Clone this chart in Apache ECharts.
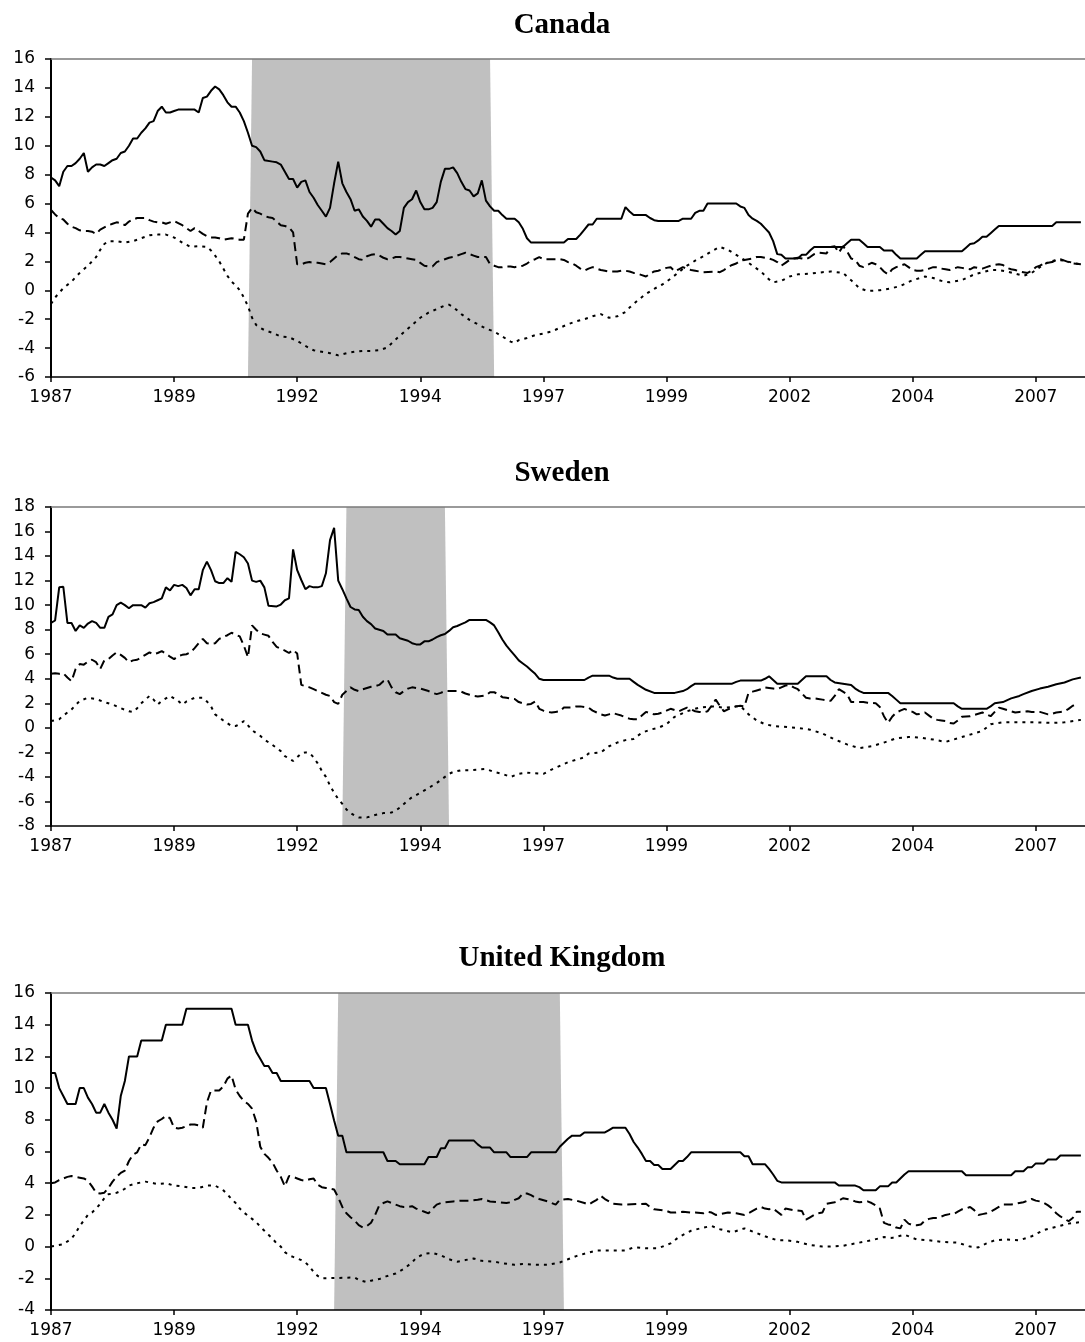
<!DOCTYPE html>
<html>
<head>
<meta charset="utf-8">
<title>Canada, Sweden, United Kingdom</title>
<script src="https://cdn.jsdelivr.net/npm/echarts@6/dist/echarts.min.js"></script>
<style>
  html, body { margin: 0; padding: 0; background: #fff; }
  #chart { width: 1085px; height: 1342px; }
</style>
</head>
<body>
<div id="chart"></div>
<script>
// x = months since January 1987, y = percent
const tickYears = [1987, 1989, 1992, 1994, 1997, 1999, 2002, 2004, 2007];

// Canada
const caRate = [[0,7.8],[1,7.6],[2,7.2],[3,8.2],[4,8.6],[5,8.6],[6,8.8],[7,9.1],[8,9.5],[9,8.2],[10,8.5],[11,8.7],[12,8.7],[13,8.6],[14,8.8],[15,9.0],[16,9.1],[17,9.5],[18,9.6],[19,10.0],[20,10.5],[21,10.5],[22,10.9],[23,11.2],[24,11.6],[25,11.7],[26,12.4],[27,12.7],[28,12.3],[29,12.3],[30,12.4],[31,12.5],[35,12.5],[36,12.3],[37,13.3],[38,13.4],[39,13.8],[40,14.1],[41,13.9],[42,13.5],[43,13.0],[44,12.7],[45,12.7],[46,12.3],[47,11.7],[48,10.9],[49,10.0],[50,9.9],[51,9.6],[52,9.0],[54,8.9],[55,8.85],[56,8.7],[57,8.2],[58,7.7],[59,7.7],[60,7.1],[61,7.5],[62,7.6],[63,6.8],[64,6.4],[65,5.9],[66,5.5],[67,5.1],[68,5.7],[69,7.4],[70,8.9],[71,7.4],[72,6.8],[73,6.3],[74,5.5],[75,5.6],[76,5.1],[77,4.8],[78,4.4],[79,4.9],[80,4.9],[81,4.6],[82,4.3],[83,4.1],[84,3.85],[85,4.1],[86,5.7],[87,6.1],[88,6.3],[89,6.9],[90,6.1],[91,5.6],[92,5.6],[93,5.7],[94,6.1],[95,7.5],[96,8.4],[97,8.4],[98,8.5],[99,8.1],[100,7.5],[101,7.0],[102,6.9],[103,6.5],[104,6.7],[105,7.6],[106,6.2],[107,5.8],[108,5.5],[109,5.5],[110,5.2],[111,4.95],[113,4.95],[114,4.7],[115,4.25],[116,3.6],[117,3.3],[125,3.3],[126,3.55],[128,3.55],[129,3.85],[130,4.2],[131,4.55],[132,4.55],[133,4.95],[139,4.95],[140,5.75],[141,5.45],[142,5.2],[145,5.2],[146,5.0],[147,4.85],[148,4.8],[153,4.8],[154,4.95],[156,4.95],[157,5.35],[158,5.5],[159,5.5],[160,6.0],[167,6.0],[168,5.8],[169,5.7],[170,5.2],[171,4.95],[172,4.8],[173,4.6],[174,4.3],[175,4.0],[176,3.4],[177,2.5],[178,2.45],[179,2.2],[182,2.2],[183,2.45],[184,2.45],[185,2.75],[186,3.0],[193,3.0],[194,3.25],[195,3.5],[197,3.5],[198,3.25],[199,3.0],[202,3.0],[203,2.75],[205,2.75],[206,2.45],[207,2.2],[211,2.2],[212,2.45],[213,2.7],[222,2.7],[223,2.95],[224,3.2],[225,3.25],[226,3.45],[227,3.7],[228,3.7],[229,3.95],[230,4.2],[231,4.45],[244,4.45],[245,4.7],[251,4.7]];
const caInfl = [[0,5.55],[1,5.25],[2,5.0],[3,4.9],[4,4.6],[5,4.4],[6,4.3],[7,4.15],[8,4.1],[9,4.1],[10,4.05],[11,3.9],[12,4.2],[13,4.35],[14,4.5],[15,4.6],[16,4.7],[17,4.65],[18,4.5],[19,4.75],[20,4.9],[21,5.0],[23,5.0],[24,4.85],[25,4.75],[26,4.7],[27,4.7],[28,4.6],[29,4.7],[30,4.8],[31,4.65],[32,4.5],[33,4.3],[34,4.1],[35,4.3],[36,4.1],[37,3.9],[38,3.75],[39,3.65],[40,3.65],[41,3.6],[42,3.5],[43,3.55],[44,3.6],[45,3.55],[46,3.5],[47,3.5],[48,5.3],[49,5.7],[50,5.4],[51,5.3],[52,5.15],[53,5.05],[54,5.0],[55,4.75],[56,4.5],[57,4.45],[58,4.35],[59,4.0],[60,1.8],[61,1.8],[62,1.9],[63,1.95],[64,1.9],[65,1.9],[66,1.85],[67,1.8],[68,1.95],[69,2.2],[70,2.45],[71,2.55],[72,2.55],[73,2.45],[74,2.3],[75,2.15],[76,2.1],[77,2.35],[78,2.45],[79,2.5],[80,2.4],[81,2.25],[82,2.15],[83,2.2],[84,2.3],[85,2.3],[86,2.25],[87,2.2],[88,2.15],[89,2.1],[90,1.9],[91,1.7],[92,1.65],[93,1.65],[94,1.95],[95,2.05],[96,2.15],[97,2.25],[98,2.3],[99,2.4],[100,2.5],[101,2.6],[102,2.5],[103,2.4],[104,2.3],[106,2.3],[107,1.8],[108,1.7],[109,1.6],[110,1.6],[111,1.65],[112,1.65],[113,1.6],[114,1.65],[115,1.7],[116,1.85],[117,2.05],[118,2.15],[119,2.3],[120,2.15],[124,2.15],[125,2.1],[126,1.95],[127,1.85],[128,1.7],[129,1.5],[130,1.35],[131,1.5],[132,1.6],[133,1.5],[134,1.4],[135,1.35],[136,1.3],[138,1.3],[139,1.35],[140,1.35],[141,1.3],[142,1.2],[143,1.15],[144,1.05],[145,0.95],[146,1.15],[147,1.3],[148,1.35],[149,1.45],[150,1.55],[151,1.6],[152,1.3],[153,1.45],[154,1.6],[155,1.5],[156,1.4],[157,1.35],[158,1.3],[159,1.25],[162,1.3],[163,1.25],[164,1.4],[165,1.6],[166,1.75],[167,1.85],[168,2.05],[169,2.1],[170,2.15],[171,2.2],[172,2.3],[173,2.3],[174,2.25],[175,2.2],[176,2.1],[177,1.95],[178,1.7],[179,1.9],[180,2.1],[181,2.2],[182,2.25],[183,2.2],[184,2.15],[185,2.3],[186,2.5],[187,2.6],[189,2.55],[190,3.0],[191,3.05],[192,2.6],[193,3.05],[194,2.7],[195,2.2],[196,2.1],[197,1.7],[198,1.6],[199,1.75],[200,1.9],[201,1.8],[202,1.6],[203,1.3],[204,1.1],[205,1.45],[206,1.6],[207,1.7],[208,1.8],[209,1.6],[210,1.4],[211,1.35],[212,1.35],[213,1.4],[214,1.5],[215,1.6],[216,1.6],[217,1.5],[218,1.45],[219,1.4],[220,1.5],[221,1.6],[222,1.55],[223,1.5],[224,1.45],[225,1.6],[226,1.55],[227,1.5],[228,1.6],[229,1.7],[230,1.75],[231,1.8],[232,1.75],[233,1.55],[234,1.45],[235,1.4],[236,1.3],[237,1.25],[238,1.2],[239,1.35],[240,1.6],[241,1.7],[242,1.85],[243,1.9],[244,1.95],[245,2.1],[246,2.15],[247,2.05],[248,1.95],[249,1.85],[251,1.8]];
const caGap = [[0,-0.95],[1,-0.5],[3,0.15],[5,0.6],[7,1.2],[9,1.7],[11,2.3],[12,2.8],[13,3.2],[14,3.4],[16,3.4],[18,3.3],[20,3.4],[22,3.6],[24,3.8],[26,3.85],[28,3.85],[30,3.65],[32,3.3],[34,3.0],[36,3.05],[38,3.0],[39,2.75],[40,2.4],[41,2.0],[42,1.5],[43,1.0],[44,0.6],[45,0.35],[46,0.0],[47,-0.5],[48,-1.1],[49,-1.9],[50,-2.4],[51,-2.6],[52,-2.75],[54,-2.95],[56,-3.2],[58,-3.25],[60,-3.5],[62,-3.85],[64,-4.15],[66,-4.25],[68,-4.35],[70,-4.5],[72,-4.35],[74,-4.25],[76,-4.2],[78,-4.2],[80,-4.15],[82,-3.95],[84,-3.4],[86,-2.9],[88,-2.4],[90,-1.9],[92,-1.55],[94,-1.3],[96,-1.05],[97,-1.0],[98,-1.15],[100,-1.65],[102,-2.05],[104,-2.35],[106,-2.65],[108,-2.85],[110,-3.2],[112,-3.55],[113,-3.65],[114,-3.45],[116,-3.3],[118,-3.1],[120,-3.0],[122,-2.85],[124,-2.6],[126,-2.35],[128,-2.15],[130,-2.0],[132,-1.8],[134,-1.65],[136,-1.9],[138,-1.8],[140,-1.5],[141,-1.2],[143,-0.7],[145,-0.25],[147,0.1],[149,0.4],[151,0.8],[153,1.25],[155,1.7],[157,2.05],[159,2.35],[161,2.7],[163,3.0],[165,2.8],[167,2.45],[169,2.1],[171,1.7],[173,1.3],[175,0.75],[176,0.55],[178,0.65],[180,0.95],[182,1.1],[185,1.15],[188,1.25],[190,1.3],[193,1.2],[195,0.7],[197,0.15],[199,-0.05],[202,0.0],[205,0.15],[207,0.3],[210,0.7],[213,0.95],[215,0.85],[217,0.65],[219,0.55],[222,0.7],[225,1.1],[227,1.25],[229,1.4],[231,1.4],[233,1.3],[235,1.15],[237,1.0],[239,1.2],[241,1.6],[243,1.95],[245,2.1],[247,2.05],[249,1.9],[251,1.8]];
const caBand = [48, 49, 107, 108];

// Sweden
const seRate = [[0,8.55],[1,8.75],[2,11.45],[3,11.5],[4,8.55],[5,8.55],[6,7.9],[7,8.35],[8,8.15],[9,8.5],[10,8.7],[11,8.55],[12,8.15],[13,8.15],[14,9.05],[15,9.25],[16,10.0],[17,10.2],[18,10.0],[19,9.75],[20,10.0],[22,10.0],[23,9.8],[24,10.15],[25,10.25],[26,10.4],[27,10.55],[28,11.45],[29,11.2],[30,11.65],[31,11.55],[32,11.65],[33,11.4],[34,10.8],[35,11.3],[36,11.3],[37,12.85],[38,13.55],[39,12.85],[40,11.95],[41,11.8],[42,11.8],[43,12.2],[44,11.9],[45,14.35],[46,14.15],[47,13.9],[48,13.4],[49,12.0],[50,11.9],[51,12.0],[52,11.45],[53,9.95],[55,9.9],[56,10.05],[57,10.4],[58,10.55],[59,14.55],[60,12.85],[61,12.05],[62,11.3],[63,11.55],[64,11.45],[65,11.45],[66,11.55],[67,12.6],[68,15.3],[69,16.3],[70,12.0],[71,11.3],[72,10.55],[73,9.85],[74,9.65],[75,9.6],[76,9.05],[77,8.7],[78,8.45],[79,8.1],[80,8.0],[81,7.9],[82,7.6],[84,7.6],[85,7.3],[86,7.2],[87,7.1],[88,6.9],[89,6.8],[90,6.8],[91,7.05],[92,7.05],[93,7.2],[94,7.4],[95,7.55],[96,7.65],[97,7.9],[98,8.2],[99,8.3],[100,8.45],[101,8.6],[102,8.8],[106,8.8],[107,8.6],[108,8.35],[109,7.8],[110,7.2],[111,6.7],[112,6.3],[113,5.9],[114,5.5],[115,5.25],[116,5.0],[117,4.7],[118,4.4],[119,4.0],[120,3.9],[130,3.9],[131,4.1],[132,4.25],[136,4.25],[137,4.1],[138,4.0],[141,4.0],[142,3.75],[143,3.5],[145,3.1],[147,2.85],[152,2.85],[154,3.0],[155,3.15],[156,3.4],[157,3.6],[166,3.6],[167,3.75],[168,3.85],[173,3.85],[174,4.0],[175,4.2],[176,3.9],[177,3.6],[182,3.6],[183,3.9],[184,4.2],[189,4.2],[190,3.9],[191,3.7],[195,3.5],[196,3.2],[197,3.0],[198,2.85],[204,2.85],[205,2.6],[206,2.3],[207,2.0],[220,2.0],[221,1.75],[222,1.55],[228,1.55],[229,1.75],[230,2.0],[232,2.1],[234,2.4],[236,2.6],[237,2.75],[239,3.0],[241,3.2],[243,3.35],[245,3.55],[247,3.7],[249,3.95],[251,4.1]];
const seInfl = [[0,4.4],[1,4.45],[2,4.4],[3,4.45],[4,4.1],[5,3.8],[6,4.8],[7,5.2],[8,5.15],[9,5.4],[10,5.55],[11,5.35],[12,4.8],[13,5.5],[14,5.6],[15,5.9],[16,6.15],[17,5.95],[18,5.7],[19,5.35],[20,5.5],[21,5.55],[22,5.75],[23,5.95],[24,6.15],[25,6.0],[26,6.1],[27,6.25],[28,6.05],[29,5.8],[30,5.6],[31,5.85],[32,5.95],[33,6.0],[34,6.15],[35,6.5],[36,6.9],[37,7.25],[38,6.9],[39,6.85],[40,6.9],[41,7.25],[42,7.4],[43,7.55],[44,7.75],[45,7.6],[46,7.45],[47,6.7],[48,5.75],[49,8.35],[50,8.0],[51,7.7],[52,7.6],[53,7.5],[54,7.0],[55,6.6],[56,6.45],[57,6.3],[58,6.1],[59,6.35],[60,6.05],[61,3.5],[62,3.4],[63,3.3],[64,3.15],[65,3.0],[66,2.85],[67,2.7],[68,2.6],[69,2.1],[70,1.95],[71,2.7],[72,3.0],[73,3.3],[74,3.1],[75,3.0],[76,3.15],[77,3.25],[78,3.35],[79,3.4],[80,3.5],[81,3.8],[82,3.95],[83,3.3],[84,2.9],[85,2.75],[86,3.0],[87,3.2],[88,3.3],[89,3.25],[90,3.2],[91,3.1],[92,3.0],[93,2.85],[94,2.75],[95,2.85],[96,3.0],[99,3.0],[100,2.95],[101,2.8],[102,2.7],[103,2.6],[104,2.55],[105,2.6],[106,2.65],[107,2.9],[108,2.9],[109,2.75],[110,2.5],[111,2.45],[112,2.4],[113,2.35],[114,2.1],[115,2.0],[116,1.9],[117,1.95],[118,2.15],[119,1.55],[120,1.4],[121,1.3],[122,1.25],[123,1.3],[124,1.35],[125,1.65],[127,1.65],[128,1.75],[129,1.75],[130,1.7],[131,1.65],[132,1.4],[133,1.25],[134,1.1],[135,1.0],[136,1.1],[137,1.2],[138,1.1],[139,1.0],[140,0.85],[141,0.75],[142,0.7],[143,0.7],[144,1.0],[145,1.3],[146,1.2],[147,1.1],[148,1.15],[149,1.25],[150,1.4],[151,1.55],[152,1.45],[153,1.35],[154,1.5],[155,1.65],[156,1.5],[157,1.35],[158,1.3],[159,1.25],[160,1.35],[161,1.8],[162,2.3],[163,1.8],[164,1.35],[165,1.5],[166,1.65],[167,1.75],[168,1.8],[169,1.75],[170,2.85],[171,2.95],[172,3.05],[173,3.15],[174,3.3],[175,3.25],[176,3.2],[177,3.15],[178,3.3],[179,3.45],[180,3.5],[181,3.3],[182,3.15],[183,2.8],[184,2.45],[185,2.4],[186,2.4],[187,2.35],[188,2.3],[189,2.25],[190,2.2],[191,2.6],[192,3.15],[193,2.95],[194,2.75],[195,2.1],[198,2.1],[199,2.05],[201,2.0],[202,1.7],[203,0.95],[204,0.4],[205,0.9],[206,1.25],[207,1.4],[208,1.55],[209,1.4],[210,1.3],[211,1.1],[212,1.15],[213,1.25],[214,1.0],[215,0.75],[216,0.65],[217,0.6],[218,0.55],[219,0.4],[220,0.35],[221,0.6],[222,0.9],[224,0.95],[225,1.05],[226,1.15],[227,1.25],[228,1.1],[229,0.95],[230,1.3],[231,1.65],[232,1.55],[233,1.45],[234,1.35],[235,1.25],[236,1.3],[238,1.35],[239,1.3],[241,1.3],[242,1.2],[243,1.1],[244,1.15],[245,1.25],[246,1.3],[247,1.35],[248,1.55],[249,1.8],[250,1.9]];
const seGap = [[0,0.55],[2,0.7],[3,1.0],[5,1.5],[7,2.2],[9,2.45],[11,2.35],[13,2.1],[15,1.9],[17,1.6],[19,1.35],[20,1.3],[21,1.6],[22,2.0],[23,2.3],[24,2.6],[25,2.3],[26,1.9],[27,2.2],[29,2.6],[30,2.4],[31,2.2],[32,1.9],[33,2.15],[35,2.45],[37,2.45],[38,2.15],[39,1.75],[40,1.1],[42,0.6],[44,0.15],[45,0.15],[46,0.3],[47,0.55],[48,0.2],[49,-0.2],[51,-0.65],[52,-0.95],[54,-1.4],[56,-1.9],[57,-2.3],[58,-2.5],[59,-2.7],[60,-2.4],[61,-2.1],[62,-2.0],[63,-2.05],[64,-2.4],[65,-2.9],[66,-3.5],[67,-4.0],[68,-4.7],[69,-5.3],[70,-5.8],[71,-6.2],[72,-6.65],[73,-6.95],[74,-7.15],[75,-7.3],[77,-7.3],[79,-7.1],[81,-6.95],[83,-6.9],[84,-6.75],[85,-6.5],[86,-6.2],[87,-5.9],[88,-5.65],[90,-5.3],[92,-4.9],[93,-4.7],[94,-4.5],[95,-4.25],[96,-4.0],[97,-3.75],[98,-3.6],[100,-3.45],[102,-3.45],[104,-3.4],[106,-3.35],[108,-3.6],[110,-3.75],[112,-4.0],[114,-3.75],[116,-3.65],[118,-3.7],[120,-3.75],[122,-3.4],[124,-3.1],[126,-2.8],[128,-2.6],[130,-2.4],[131,-2.1],[134,-2.0],[136,-1.5],[138,-1.2],[140,-1.0],[142,-0.9],[144,-0.4],[146,-0.15],[148,0.0],[150,0.3],[152,0.9],[155,1.35],[158,1.65],[161,1.75],[164,1.65],[166,1.7],[168,1.8],[170,1.1],[172,0.6],[174,0.3],[176,0.15],[178,0.1],[180,0.05],[182,0.0],[185,-0.15],[188,-0.45],[191,-0.95],[194,-1.35],[197,-1.65],[200,-1.5],[203,-1.2],[206,-0.85],[209,-0.75],[212,-0.8],[215,-0.95],[218,-1.15],[220,-0.95],[224,-0.55],[227,-0.25],[229,0.3],[232,0.45],[236,0.45],[240,0.45],[244,0.4],[247,0.45],[251,0.65]];
const seBand = [71, 72, 96, 97];

// United Kingdom
const ukRate = [[0,10.95],[1,10.95],[2,10.0],[3,9.5],[4,9.0],[6,9.0],[7,10.0],[8,10.0],[9,9.4],[10,9.0],[11,8.45],[12,8.45],[13,9.0],[14,8.45],[15,8.0],[16,7.45],[17,9.5],[18,10.45],[19,12.0],[21,12.0],[22,13.0],[27,13.0],[28,14.0],[32,14.0],[33,15.0],[44,15.0],[45,14.0],[48,14.0],[49,13.0],[50,12.3],[51,11.85],[52,11.4],[53,11.4],[54,10.95],[55,10.95],[56,10.45],[63,10.45],[64,10.0],[67,10.0],[68,9.0],[69,7.95],[70,7.0],[71,7.0],[72,5.95],[81,5.95],[82,5.4],[84,5.4],[85,5.2],[91,5.2],[92,5.65],[94,5.65],[95,6.2],[96,6.2],[97,6.7],[103,6.7],[104,6.45],[105,6.25],[107,6.25],[108,5.95],[111,5.95],[112,5.65],[116,5.65],[117,5.95],[123,5.95],[124,6.3],[125,6.55],[126,6.8],[127,7.0],[129,7.0],[130,7.2],[135,7.2],[136,7.35],[137,7.5],[140,7.5],[141,7.1],[142,6.6],[143,6.25],[144,5.85],[145,5.4],[146,5.4],[147,5.15],[148,5.15],[149,4.9],[151,4.9],[152,5.15],[153,5.4],[154,5.4],[155,5.65],[156,5.95],[168,5.95],[169,5.7],[170,5.7],[171,5.2],[174,5.2],[175,4.9],[176,4.55],[177,4.15],[178,4.05],[191,4.05],[192,3.85],[196,3.85],[197,3.75],[198,3.55],[201,3.55],[202,3.8],[204,3.8],[205,4.05],[206,4.05],[207,4.3],[208,4.55],[209,4.75],[222,4.75],[223,4.5],[234,4.5],[235,4.75],[237,4.75],[238,5.0],[239,5.0],[240,5.25],[242,5.25],[243,5.5],[245,5.5],[246,5.75],[251,5.75]];
const ukInfl = [[0,4.0],[1,4.05],[2,4.2],[3,4.3],[4,4.4],[5,4.45],[6,4.4],[7,4.35],[8,4.3],[9,4.15],[10,3.8],[11,3.4],[12,3.35],[13,3.4],[14,3.7],[15,4.1],[16,4.4],[17,4.65],[18,4.8],[19,5.4],[20,5.8],[21,5.95],[22,6.45],[23,6.4],[24,6.9],[25,7.5],[26,7.9],[27,8.05],[28,8.25],[29,8.1],[30,7.5],[31,7.45],[32,7.5],[33,7.6],[34,7.7],[35,7.7],[36,7.65],[37,7.5],[38,9.1],[39,9.85],[41,9.85],[42,10.1],[43,10.6],[44,10.8],[45,9.9],[46,9.5],[47,9.2],[48,9.0],[49,8.7],[50,7.9],[51,6.3],[52,5.85],[53,5.6],[54,5.3],[55,4.8],[56,4.4],[57,3.8],[58,4.45],[59,4.4],[60,4.3],[61,4.2],[62,4.15],[63,4.25],[64,4.3],[65,3.9],[66,3.75],[67,3.7],[68,3.65],[69,3.6],[70,3.1],[71,2.5],[72,2.1],[73,1.85],[74,1.65],[75,1.35],[76,1.2],[77,1.3],[78,1.5],[79,2.0],[80,2.6],[81,2.75],[82,2.85],[83,2.75],[84,2.65],[85,2.55],[86,2.5],[87,2.5],[88,2.55],[89,2.4],[90,2.3],[91,2.2],[92,2.1],[93,2.4],[94,2.65],[95,2.75],[96,2.8],[98,2.85],[100,2.9],[102,2.9],[104,2.95],[105,3.0],[107,2.85],[109,2.8],[111,2.75],[112,2.8],[113,2.95],[114,3.05],[115,3.35],[116,3.35],[117,3.25],[118,3.1],[119,3.0],[121,2.85],[123,2.65],[124,2.95],[126,3.0],[128,2.9],[130,2.75],[131,2.65],[132,2.8],[133,2.95],[134,3.2],[135,3.0],[136,2.85],[137,2.7],[139,2.65],[145,2.7],[146,2.5],[147,2.35],[149,2.3],[150,2.25],[151,2.15],[152,2.15],[154,2.2],[156,2.15],[157,2.15],[159,2.1],[160,2.2],[161,2.15],[162,2.0],[163,2.05],[165,2.15],[167,2.1],[169,2.0],[170,2.1],[171,2.25],[172,2.4],[173,2.5],[174,2.4],[175,2.35],[176,2.4],[177,2.2],[178,2.0],[179,2.4],[181,2.3],[183,2.25],[184,1.7],[185,1.85],[186,2.0],[187,2.1],[188,2.15],[189,2.7],[190,2.75],[191,2.8],[192,2.9],[193,3.05],[194,3.0],[195,2.95],[196,2.85],[197,2.8],[199,2.85],[200,2.75],[201,2.6],[202,2.4],[203,1.5],[204,1.4],[205,1.35],[206,1.2],[207,1.15],[208,1.7],[209,1.45],[210,1.35],[211,1.35],[212,1.4],[213,1.65],[214,1.75],[215,1.8],[216,1.8],[217,1.9],[218,2.0],[219,2.05],[220,2.05],[221,2.2],[222,2.35],[223,2.4],[224,2.5],[225,2.3],[226,2.0],[227,2.05],[228,2.1],[229,2.2],[230,2.35],[231,2.5],[232,2.65],[234,2.65],[235,2.7],[236,2.75],[237,2.8],[238,2.9],[239,3.0],[240,2.9],[241,2.85],[242,2.75],[243,2.6],[244,2.4],[245,2.1],[246,1.9],[247,1.75],[248,1.6],[249,1.8],[250,2.2],[251,2.2]];
const ukGap = [[0,0.0],[1,0.05],[3,0.15],[5,0.5],[6,0.85],[7,1.3],[8,1.65],[9,2.0],[10,2.15],[11,2.4],[12,2.7],[13,3.05],[14,3.3],[16,3.4],[17,3.5],[18,3.65],[19,3.85],[21,4.0],[23,4.1],[25,4.0],[26,3.95],[28,4.0],[30,3.85],[32,3.8],[34,3.7],[36,3.7],[38,3.85],[40,3.85],[42,3.55],[43,3.3],[44,3.0],[45,2.75],[46,2.4],[47,2.15],[48,1.95],[49,1.75],[50,1.55],[51,1.25],[52,1.0],[53,0.75],[54,0.5],[55,0.2],[56,0.0],[57,-0.35],[58,-0.55],[59,-0.65],[60,-0.75],[61,-0.85],[62,-1.0],[63,-1.25],[64,-1.6],[65,-1.85],[66,-2.0],[74,-1.95],[75,-2.1],[77,-2.25],[78,-2.15],[80,-2.05],[82,-1.85],[84,-1.7],[86,-1.4],[88,-1.0],[89,-0.7],[91,-0.45],[93,-0.4],[95,-0.55],[97,-0.8],[99,-0.95],[101,-0.85],[103,-0.75],[105,-0.9],[108,-0.95],[110,-1.05],[113,-1.15],[115,-1.1],[118,-1.15],[121,-1.15],[124,-1.0],[126,-0.8],[128,-0.6],[130,-0.45],[133,-0.25],[140,-0.25],[142,-0.05],[145,-0.1],[148,-0.1],[151,0.2],[153,0.6],[156,1.0],[159,1.2],[161,1.3],[163,1.1],[166,0.9],[169,1.15],[172,0.85],[174,0.65],[177,0.4],[179,0.4],[182,0.3],[185,0.1],[188,0.0],[190,0.0],[193,0.05],[197,0.25],[200,0.4],[203,0.6],[205,0.55],[208,0.75],[211,0.45],[214,0.4],[217,0.3],[221,0.25],[224,0.0],[226,-0.05],[228,0.2],[230,0.4],[233,0.45],[236,0.4],[239,0.65],[242,1.05],[245,1.25],[248,1.45],[251,1.55]];
const ukBand = [69, 70, 124, 125];

const panels = [
  { name: 'Canada', rate: caRate, infl: caInfl, gap: caGap, band: caBand, yMin: -6, yMax: 16 },
  { name: 'Sweden', rate: seRate, infl: seInfl, gap: seGap, band: seBand, yMin: -8, yMax: 18 },
  { name: 'United Kingdom', rate: ukRate, infl: ukInfl, gap: ukGap, band: ukBand, yMin: -4, yMax: 16 }
];

// layout of the three plot boxes (pixels)
const boxes = [
  { top: 59, height: 318, titleY: 26 },
  { top: 507, height: 319, titleY: 474 },
  { top: 993, height: 317, titleY: 959 }
];

const labelFont = { color: '#000', fontFamily: 'DejaVu Sans', fontSize: 17 };

const grids = [], xAxes = [], yAxes = [], series = [], titles = [];

panels.forEach((p, i) => {
  const b = boxes[i];
  grids.push({ left: 51, right: -8, top: b.top, height: b.height });

  xAxes.push({
    gridIndex: i, type: 'value', min: 0, max: 252, interval: 30, position: 'bottom', z: 5,
    axisLine: { show: true, onZero: false, lineStyle: { color: '#000', width: 1.5 } },
    axisTick: { show: true, length: 5, lineStyle: { color: '#000', width: 1.5 } },
    axisLabel: Object.assign({
      margin: 12, showMaxLabel: false,
      formatter: v => (v % 30 === 0 && tickYears[v / 30] !== undefined) ? String(tickYears[v / 30]) : ''
    }, labelFont),
    splitLine: { show: false }
  });
  // top edge of the plot box
  xAxes.push({
    gridIndex: i, type: 'value', min: 0, max: 252, position: 'top', z: 5,
    axisLine: { show: true, onZero: false, lineStyle: { color: '#7a7a7a', width: 1.5 } },
    axisTick: { show: false }, axisLabel: { show: false }, splitLine: { show: false }
  });

  yAxes.push({
    gridIndex: i, type: 'value', min: p.yMin, max: p.yMax, interval: 2, z: 5,
    axisLine: { show: true, onZero: false, lineStyle: { color: '#000', width: 2 } },
    axisTick: { show: true, length: 6, lineStyle: { color: '#000', width: 1.5 } },
    axisLabel: Object.assign({ margin: 16 }, labelFont),
    splitLine: { show: false }
  });

  const xi = 2 * i;
  // shaded period
  series.push({
    type: 'line', xAxisIndex: xi, yAxisIndex: i, silent: true, z: 1,
    symbol: 'none',
    data: [[p.band[0], p.yMin], [p.band[1], p.yMax], [p.band[2], p.yMax], [p.band[3], p.yMin]],
    lineStyle: { width: 0, opacity: 0 },
    areaStyle: { color: '#c0c0c0', opacity: 1, origin: 'start' }
  });
  series.push({
    type: 'line', xAxisIndex: xi, yAxisIndex: i, z: 3, symbol: 'none', data: p.rate,
    lineStyle: { color: '#000', width: 2, type: 'solid' }
  });
  series.push({
    type: 'line', xAxisIndex: xi, yAxisIndex: i, z: 3, symbol: 'none', data: p.infl,
    lineStyle: { color: '#000', width: 2, type: [9, 5] }
  });
  series.push({
    type: 'line', xAxisIndex: xi, yAxisIndex: i, z: 3, symbol: 'none', data: p.gap,
    lineStyle: { color: '#000', width: 2, type: [3, 5] }
  });

  titles.push({
    type: 'text', x: 562, y: b.titleY, z: 10,
    style: {
      text: p.name, fill: '#000',
      font: 'bold 29px "Liberation Serif", "DejaVu Serif", serif',
      align: 'center', verticalAlign: 'middle'
    }
  });
});

const chart = echarts.init(document.getElementById('chart'));
chart.setOption({
  animation: false,
  backgroundColor: '#fff',
  grid: grids,
  xAxis: xAxes,
  yAxis: yAxes,
  series: series,
  graphic: titles
});
</script>
</body>
</html>
